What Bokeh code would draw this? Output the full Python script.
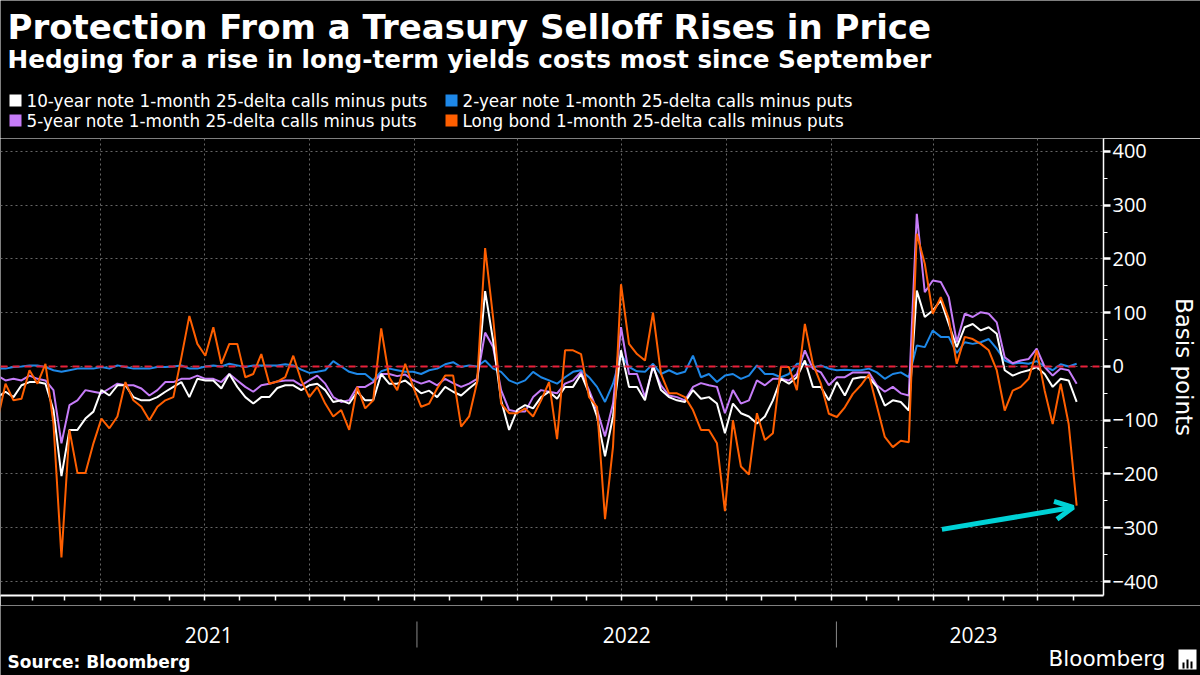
import pandas as pd
from bokeh.plotting import figure
from bokeh.models import (Range1d, FixedTicker, SingleIntervalTicker, Span, Label,
                          Arrow, OpenHead, ColumnDataSource, BoxAnnotation)
from bokeh.core.properties import value
from bokeh.embed import file_html
from bokeh.resources import INLINE

# ---------------- data (weekly readings, basis points) ----------------
start_date = "2021-01-01"

ten_year = [
 -57, -47, -57, -35, -29, -29, -32, -81, -204, -118,
 -118, -97, -84, -44, -54, -35, -35, -57, -63, -63,
 -57, -47, -38, -29, -57, -23, -26, -26, -41, -14,
 -38, -57, -69, -57, -57, -40, -35, -35, -44, -35,
 -32, -44, -66, -63, -69, -47, -63, -63, -14, -32,
 -32, -26, -38, -50, -45, -57, -38, -47, -54, -41,
 -29, 140, 48, -63, -118, -81, -72, -78, -57, -47,
 -60, -38, -38, -14, -50, -93, -167, -93, 30, -38,
 -38, -63, 2, -44, -57, -63, -66, -44, -60, -57,
 -69, -124, -69, -87, -93, -106, -93, -63, -23, -32,
 -20, 11, -38, -38, -63, -29, -54, -23, -20, -20,
 -38, -73, -63, -66, -82, 141, 92, 104, 123, 79,
 36, 73, 79, 67, 73, 61, -7, -17, -11, -7,
 -1, -14, -38, -23, -26, -66]

two_year = [
 -4, -4, -1, 0, 2, 2, -1, -7, -10, -7,
 -4, -4, -4, -1, -4, 2, -1, -4, -4, -4,
 -1, -1, 0, 2, -4, -4, 0, 2, 0, 5,
 2, -1, 2, 2, 2, 2, 4, 2, -6, -12,
 -10, -7, 10, 0, -10, -14, -14, -26, -9, -4,
 -7, -10, -10, -14, -7, -4, 4, 8, -1, 2,
 0, 11, -4, -10, -26, -32, -26, -10, -20, -26,
 -32, -20, -10, -7, -20, -38, -66, -32, 22, -1,
 -9, -10, 5, -14, -7, -14, -10, 20, -20, -14,
 -29, -17, -14, -23, -17, 2, -14, -14, -20, -14,
 5, 5, -2, 2, -4, -7, -6, -7, -7, -4,
 -11, -23, -14, -11, -20, 39, 36, 67, 55, 55,
 25, 45, 42, 45, 51, 33, 11, 5, 7, 5,
 10, 0, -7, 4, 0, 5]

five_year = [
 -17, -26, -23, -26, -17, -23, -26, -44, -143, -72,
 -63, -44, -47, -50, -41, -32, -35, -35, -41, -54,
 -44, -29, -29, -23, -23, -17, -23, -23, -29, -14,
 -26, -38, -47, -35, -32, -28, -26, -26, -35, -26,
 -17, -32, -57, -66, -63, -38, -38, -29, -14, -14,
 -18, -15, -26, -32, -27, -35, -23, -31, -38, -32,
 -23, 63, 36, -44, -81, -84, -84, -57, -44, -47,
 -50, -32, -26, -10, -44, -81, -130, -69, 73, -14,
 -14, -57, -1, -35, -54, -57, -63, -38, -31, -35,
 -38, -87, -44, -69, -63, -26, -35, -23, -23, -26,
 -14, 30, -4, -11, -35, -20, -20, -11, -11, -11,
 -35, -47, -38, -50, -54, 284, 138, 160, 157, 129,
 45, 98, 92, 101, 98, 82, 17, 6, 11, 14,
 33, -1, -17, -4, -7, -32]

long_bond = [
 -100, -32, -63, -60, -7, -32, 5, -106, -355, -118,
 -198, -198, -143, -97, -115, -93, -29, -63, -75, -100,
 -75, -63, -57, 17, 94, 42, 20, 73, 5, 42,
 42, -20, -14, 23, -32, -28, -20, 20, -26, -57,
 -38, -69, -93, -81, -118, -38, -78, -63, 71, -20,
 -44, 5, -38, -75, -69, -41, -17, -17, -112, -93,
 -29, 220, 91, -69, -87, -87, -78, -93, -63, -29,
 -135, 30, 30, 23, -57, -75, -284, -149, 153, 42,
 23, 11, 100, -14, -50, -50, -57, -81, -118, -118,
 -143, -269, -100, -186, -201, -87, -137, -124, -1, -1,
 -44, 79, 5, -32, -88, -94, -76, -51, -35, -15,
 -73, -131, -150, -138, -141, 247, 191, 98, 129, 89,
 5, 55, 51, 42, 30, -7, -82, -45, -38, -23,
 30, -45, -107, -32, -107, -259]

legend_labels = [
    "10-year note 1-month 25-delta calls minus puts",
    "2-year note 1-month 25-delta calls minus puts",
    "5-year note 1-month 25-delta calls minus puts",
    "Long bond 1-month 25-delta calls minus puts",
]
years = ["2021", "2022", "2023"]
y_ticks_interval = 100
x_view = ("2021-01-03 15:00", "2023-08-27 12:00")
y_view = (-426, 424)
arrow_from = ("2023-04-08", -303)
arrow_to = ("2023-08-01", -262)

title = "Protection From a Treasury Selloff Rises in Price"
subtitle = "Hedging for a rise in long-term yields costs most since September"
source_text = "Source: Bloomberg"
y_label = "Basis points"

# ---------------- style ----------------
WHITE = "#ffffff"
BLUE = "#1e88e8"
PURPLE = "#c67cf8"
ORANGE = "#ff5f00"
RED = "#e8203a"
CYAN = "#00d2d6"
GRID = "#666666"
TEXT_FONT = "DejaVu Sans"
NUM_FONT = "Open Sans"

W = 1200
H_HEAD, H_MAIN, H_FOOT = 138, 467, 70
RB = 90          # right border of the chart (axis area)
BB = 10          # bottom border (month ticks)
FRAME_W = W - RB


def ms(t):
    return (pd.Timestamp(t) - pd.Timestamp("1970-01-01")) / pd.Timedelta(milliseconds=1)


def bare(height, xr, yr):
    return figure(width=W, height=height, x_range=xr, y_range=yr, x_axis_type=None,
                  y_axis_type=None, output_backend="svg", toolbar_location=None,
                  min_border=0, background_fill_color="black",
                  border_fill_color="black", outline_line_color=None)


# ---------------- header: title, subtitle, legend ----------------
head = bare(H_HEAD, Range1d(0, W), Range1d(H_HEAD, 0))
head.add_layout(Label(x=7, y=26, text=title, text_font=TEXT_FONT, text_font_size="34px",
                      text_font_style="bold", text_color=WHITE,
                      text_baseline="middle"))
head.add_layout(Label(x=7, y=59, text=subtitle, text_font=TEXT_FONT,
                      text_font_size="24.7px", text_font_style="bold",
                      text_color=WHITE, text_baseline="middle"))
colors = [WHITE, BLUE, PURPLE, ORANGE]
sq_left = [9, 445, 9, 445]
sq_top = [94, 94, 114, 114]
head.quad(left=sq_left, right=[v + 12 for v in sq_left], top=sq_top,
          bottom=[v + 12 for v in sq_top], fill_color=colors, line_color=None)
head.text(x=[v + 17 for v in sq_left], y=[v + 6 for v in sq_top], text=legend_labels,
          text_color=WHITE, text_font=value(TEXT_FONT), text_font_size="16.8px",
          text_baseline="middle")

# ---------------- main chart ----------------
dates = pd.date_range(start_date, periods=len(long_bond), freq="7D")
src = ColumnDataSource(dict(date=dates, ten=ten_year, two=two_year,
                            five=five_year, long=long_bond))

xr = Range1d(start=ms(x_view[0]), end=ms(x_view[1]))
yr = Range1d(*y_view)

p = figure(width=W, height=H_MAIN, x_range=xr, y_range=yr, x_axis_type="datetime",
           y_axis_location="right", output_backend="svg", toolbar_location=None,
           min_border_left=0, min_border_right=RB, min_border_top=0,
           min_border_bottom=BB, background_fill_color="black",
           border_fill_color="black", outline_line_color=None)

ya = p.yaxis[0]
ya.ticker = SingleIntervalTicker(interval=y_ticks_interval, num_minor_ticks=2)
ya.major_label_text_color = WHITE
ya.major_label_text_font = NUM_FONT
ya.major_label_text_font_size = "20px"
ya.axis_line_color = WHITE
ya.axis_line_width = 1.5
ya.major_tick_line_color = WHITE
ya.major_tick_line_width = 2.5
ya.major_tick_out = 7
ya.major_tick_in = 0
ya.minor_tick_line_color = WHITE
ya.minor_tick_out = 4
ya.minor_tick_in = 0
ya.major_label_standoff = 2
ya.axis_label = y_label
ya.axis_label_text_font = TEXT_FONT
ya.axis_label_text_font_size = "23px"
ya.axis_label_text_font_style = "normal"
ya.axis_label_text_color = WHITE
ya.axis_label_standoff = 10

month_starts = pd.date_range("2021-01-01", "2023-09-01", freq="MS")
quarter_starts = pd.date_range("2021-01-01", "2023-09-01", freq="QS")
xa = p.xaxis[0]
xa.ticker = FixedTicker(ticks=[], minor_ticks=[ms(t) for t in month_starts])
xa.axis_line_color = WHITE
xa.axis_line_width = 2
xa.major_tick_line_color = None
xa.minor_tick_line_color = WHITE
xa.minor_tick_line_width = 1.5
xa.minor_tick_out = 5
xa.minor_tick_in = 0

p.xgrid.ticker = FixedTicker(ticks=[ms(t) for t in quarter_starts])
p.ygrid.ticker = SingleIntervalTicker(interval=y_ticks_interval)
for g in (p.xgrid[0], p.ygrid[0]):
    g.grid_line_color = GRID
    g.grid_line_dash = "2 3"
    g.grid_line_width = 1

p.line("date", "two", source=src, line_color=BLUE, line_width=2)
p.line("date", "five", source=src, line_color=PURPLE, line_width=2)
p.line("date", "ten", source=src, line_color=WHITE, line_width=2)
p.line("date", "long", source=src, line_color=ORANGE, line_width=2)

p.add_layout(Span(location=0, dimension="width", line_color=RED,
                  line_width=2, line_dash="7 5"))

p.add_layout(Arrow(end=OpenHead(size=18, line_color=CYAN, line_width=5),
                   x_start=ms(arrow_from[0]), y_start=arrow_from[1],
                   x_end=ms(arrow_to[0]), y_end=arrow_to[1],
                   line_color=CYAN, line_width=5))

# ---------------- footer: years, source, logo ----------------
span_ms = xr.end - xr.start
foot_xr = Range1d(xr.start, xr.start + span_ms * W / FRAME_W)
foot = bare(H_FOOT, foot_xr, Range1d(H_FOOT, 0))

bounds, centers = [], []
for y in years:
    y0 = ms(f"{y}-01-01")
    y1 = ms(f"{int(y) + 1}-01-01")
    centers.append((max(y0, xr.start) + min(y1, xr.end)) / 2)
    if y0 > xr.start:
        bounds.append(y0)

foot.segment(x0=bounds, x1=bounds, y0=[16] * len(bounds), y1=[42] * len(bounds),
             line_color="#8a8a8a", line_width=1)
foot.text(x=centers, y=[29] * len(centers), text=years, text_color=WHITE,
          text_font=value(NUM_FONT), text_font_size="21px", text_align="center",
          text_baseline="middle")

foot.add_layout(Label(x=7, y=H_FOOT - 56.5, x_units="screen", y_units="screen",
                      text=source_text, text_font=TEXT_FONT, text_font_size="17px",
                      text_font_style="bold", text_color=WHITE, text_baseline="middle"))
foot.add_layout(Label(x=1048, y=H_FOOT - 53, x_units="screen", y_units="screen",
                      text="Bloomberg", text_font=TEXT_FONT, text_font_size="21.5px",
                      text_color=WHITE, text_baseline="middle"))
# small logo badge
foot.add_layout(BoxAnnotation(left=1178, right=1196, bottom=H_FOOT - 64, top=H_FOOT - 44,
                              left_units="screen", right_units="screen",
                              bottom_units="screen", top_units="screen",
                              fill_color=WHITE, fill_alpha=1, line_color=None))
for bl, bt in ((1182, 57), (1186, 54), (1190, 56)):
    foot.add_layout(BoxAnnotation(left=bl, right=bl + 2, bottom=H_FOOT - 63, top=H_FOOT - bt,
                                  left_units="screen", right_units="screen",
                                  bottom_units="screen", top_units="screen",
                                  fill_color="black", fill_alpha=1, line_color=None))

open("out.html", "w").write(file_html([head, p, foot], INLINE))
